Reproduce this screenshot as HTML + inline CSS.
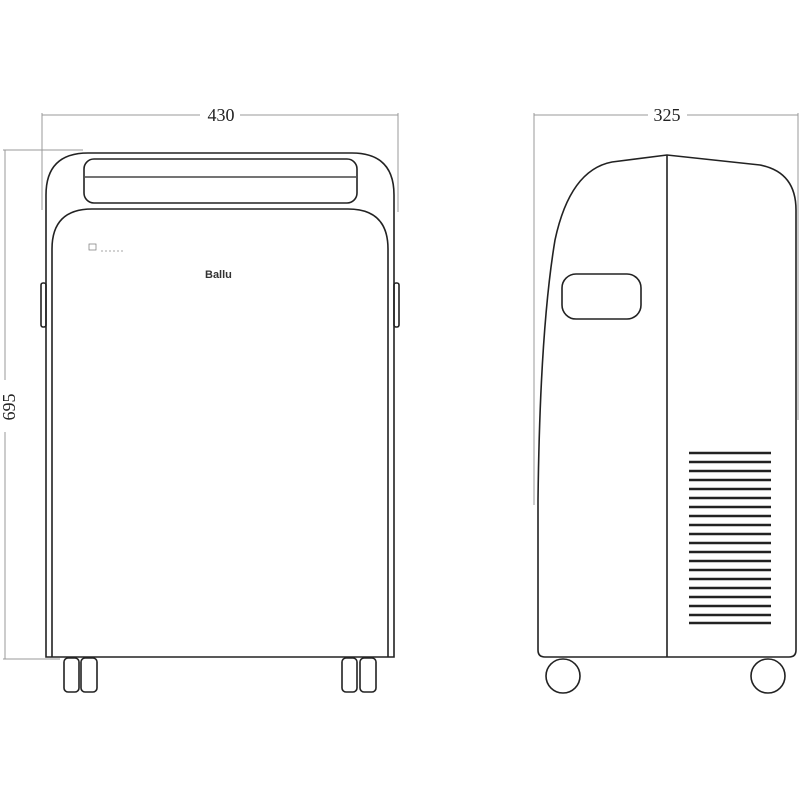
<!DOCTYPE html>
<html><head><style>body{margin:0;background:#fff}svg{display:block}</style></head><body>
<svg width="800" height="800" viewBox="0 0 800 800" xmlns="http://www.w3.org/2000/svg" font-family="Liberation Serif, serif">
<g stroke="#999" stroke-width="1" fill="none">
<line x1="42" y1="115" x2="200" y2="115"/><line x1="240" y1="115" x2="398" y2="115"/>
<line x1="42" y1="113" x2="42" y2="210"/><line x1="398" y1="113" x2="398" y2="212"/>
<line x1="5" y1="150" x2="5" y2="380"/><line x1="5" y1="432" x2="5" y2="659"/>
<line x1="3" y1="150" x2="83" y2="150"/><line x1="3" y1="659" x2="60" y2="659"/>
<line x1="534" y1="115" x2="648" y2="115"/><line x1="687" y1="115" x2="798" y2="115"/>
<line x1="534" y1="113" x2="534" y2="505"/><line x1="798" y1="113" x2="798" y2="420"/>
</g>
<text x="221" y="121" font-size="18" text-anchor="middle" fill="#222">430</text>
<text x="667" y="121" font-size="18" text-anchor="middle" fill="#222">325</text>
<text transform="translate(15,407) rotate(-90)" font-size="18" text-anchor="middle" fill="#222">695</text>
<g stroke="#222" stroke-width="1.6" fill="none">
<path d="M46 657 V195 Q46 153 88 153 H352 Q394 153 394 195 V657 Z"/>
<path d="M52 657 V249 Q52 209 92 209 H348 Q388 209 388 249 V657"/>
<rect x="84" y="159" width="273" height="44" rx="10"/>
<line x1="85" y1="177" x2="356" y2="177" stroke-width="1.2"/>
<rect x="41" y="283" width="5" height="44" rx="2"/><rect x="394" y="283" width="5" height="44" rx="2"/>
<rect x="64" y="658" width="15" height="34" rx="4"/><rect x="81" y="658" width="16" height="34" rx="4"/>
<rect x="342" y="658" width="15" height="34" rx="4"/><rect x="360" y="658" width="16" height="34" rx="4"/>
<path d="M667 155 L612 162 Q570 170 555 240 Q540 330 538 500 L538 650 Q538 657 545 657 H789 Q796 657 796 650 V210 Q796 172 760 165 Z"/>
<line x1="667" y1="155" x2="667" y2="657"/>
<rect x="562" y="274" width="79" height="45" rx="14"/>
<circle cx="563" cy="676" r="17"/><circle cx="768" cy="676" r="17"/>
</g>
<g stroke="#222" stroke-width="2.5">
<line x1="689" y1="453" x2="771" y2="453"/><line x1="689" y1="462" x2="771" y2="462"/><line x1="689" y1="471" x2="771" y2="471"/><line x1="689" y1="480" x2="771" y2="480"/><line x1="689" y1="489" x2="771" y2="489"/><line x1="689" y1="498" x2="771" y2="498"/><line x1="689" y1="507" x2="771" y2="507"/><line x1="689" y1="516" x2="771" y2="516"/><line x1="689" y1="525" x2="771" y2="525"/><line x1="689" y1="534" x2="771" y2="534"/><line x1="689" y1="543" x2="771" y2="543"/><line x1="689" y1="552" x2="771" y2="552"/><line x1="689" y1="561" x2="771" y2="561"/><line x1="689" y1="570" x2="771" y2="570"/><line x1="689" y1="579" x2="771" y2="579"/><line x1="689" y1="588" x2="771" y2="588"/><line x1="689" y1="597" x2="771" y2="597"/><line x1="689" y1="606" x2="771" y2="606"/><line x1="689" y1="615" x2="771" y2="615"/><line x1="689" y1="623" x2="771" y2="623"/>
</g>
<rect x="89" y="244" width="7" height="6" fill="none" stroke="#777" stroke-width="0.7"/>
<line x1="101" y1="251" x2="124" y2="251" stroke="#888" stroke-width="0.8" stroke-dasharray="2 2"/>
<text x="205" y="278" font-family="Liberation Sans, sans-serif" font-weight="bold" font-size="11" fill="#333">Ballu</text>
</svg>
</body></html>
